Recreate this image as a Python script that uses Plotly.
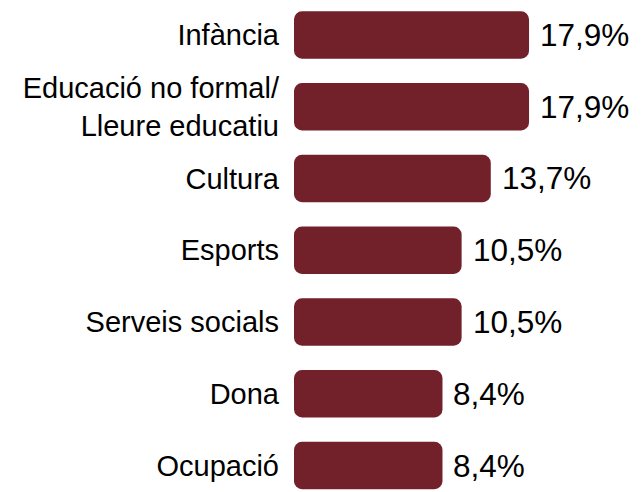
import plotly.graph_objects as go

categories = ["Infància", "Educació no formal/<br>Lleure educatiu", "Cultura", "Esports",
              "Serveis socials", "Dona", "Ocupació"]
values = [17.9, 17.9, 13.7, 10.5, 10.5, 8.4, 8.4]

BAR_COLOR = "#72202A"
BASE = -7.9  # visual offset at which bars start
FONT = "Liberation Sans, Arial, sans-serif"

fig = go.Figure()
fig.add_trace(go.Bar(
    y=categories, x=[v - BASE for v in values], base=BASE, orientation="h",
    marker=dict(color=BAR_COLOR, cornerradius=8, line=dict(width=0)),
    width=0.66, hoverinfo="skip", showlegend=False))

for c, v in zip(categories, values):
    fig.add_annotation(x=v, y=c, text=f"{v:.1f}".replace(".", ",") + "%",
                       xanchor="left", yanchor="middle", xshift=9, showarrow=False,
                       font=dict(family=FONT, size=31.5, color="black"))

fig.update_layout(
    width=636, height=484,
    margin=dict(l=286, r=0, t=0, b=0, autoexpand=False),
    paper_bgcolor="white", plot_bgcolor="white",
    xaxis=dict(range=[BASE, BASE + 350 / 9.11], visible=False, showgrid=False, zeroline=False),
    yaxis=dict(type="category", categoryorder="array", categoryarray=categories,
               range=[6.369, -0.376], showgrid=False, zeroline=False, showline=False,
               ticks="", ticklabelstandoff=14,
               tickfont=dict(family=FONT, size=29, color="black")),
)

fig.write_html("out.html")
